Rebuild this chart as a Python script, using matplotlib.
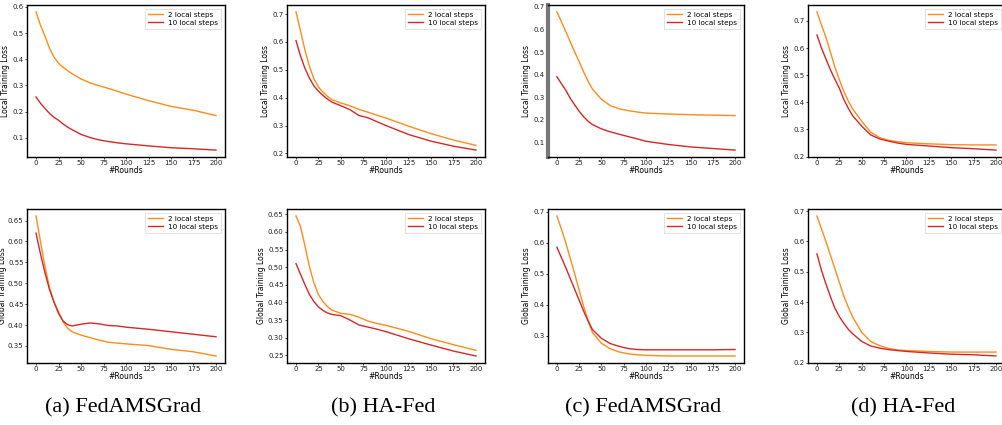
import numpy as np
import matplotlib.pyplot as plt

# rounds at which values were read
rounds = [0, 5, 10, 15, 20, 25, 30, 35, 40, 50, 60, 70, 80, 90, 100, 125, 150, 175, 200]

# local training loss (top row)
local_a_2 = [0.581, 0.530, 0.488, 0.442, 0.408, 0.385, 0.370, 0.357, 0.345, 0.325, 0.310, 0.299, 0.289, 0.278, 0.267, 0.242, 0.220, 0.205, 0.185]
local_a_10 = [0.256, 0.232, 0.212, 0.193, 0.178, 0.167, 0.153, 0.141, 0.131, 0.113, 0.101, 0.092, 0.086, 0.081, 0.077, 0.069, 0.062, 0.058, 0.053]
local_b_2 = [0.708, 0.640, 0.570, 0.512, 0.467, 0.438, 0.420, 0.405, 0.393, 0.381, 0.371, 0.358, 0.348, 0.337, 0.327, 0.298, 0.271, 0.248, 0.229]
local_b_10 = [0.605, 0.550, 0.505, 0.470, 0.442, 0.423, 0.408, 0.395, 0.384, 0.371, 0.357, 0.336, 0.328, 0.314, 0.300, 0.268, 0.244, 0.226, 0.212]
local_c_2 = [0.678, 0.635, 0.590, 0.545, 0.500, 0.457, 0.412, 0.370, 0.335, 0.290, 0.262, 0.248, 0.240, 0.234, 0.229, 0.225, 0.222, 0.220, 0.218]
local_c_10 = [0.390, 0.360, 0.330, 0.295, 0.265, 0.237, 0.213, 0.193, 0.178, 0.159, 0.146, 0.135, 0.125, 0.115, 0.104, 0.090, 0.079, 0.072, 0.065]
local_d_2 = [0.733, 0.685, 0.640, 0.585, 0.530, 0.483, 0.440, 0.405, 0.375, 0.330, 0.290, 0.270, 0.260, 0.255, 0.251, 0.247, 0.244, 0.243, 0.243]
local_d_10 = [0.648, 0.600, 0.560, 0.520, 0.485, 0.452, 0.410, 0.378, 0.350, 0.312, 0.280, 0.265, 0.257, 0.250, 0.245, 0.239, 0.233, 0.229, 0.224]

# global training loss (bottom row)
global_a_2 = [0.661, 0.600, 0.540, 0.490, 0.455, 0.432, 0.408, 0.393, 0.384, 0.376, 0.370, 0.364, 0.359, 0.357, 0.355, 0.351, 0.342, 0.336, 0.326]
global_a_10 = [0.620, 0.570, 0.525, 0.485, 0.455, 0.428, 0.410, 0.401, 0.398, 0.402, 0.405, 0.403, 0.399, 0.398, 0.395, 0.390, 0.384, 0.378, 0.372]
global_b_2 = [0.645, 0.615, 0.560, 0.500, 0.455, 0.422, 0.402, 0.388, 0.378, 0.369, 0.366, 0.358, 0.347, 0.340, 0.335, 0.318, 0.297, 0.280, 0.264]
global_b_10 = [0.510, 0.480, 0.450, 0.422, 0.402, 0.387, 0.377, 0.370, 0.366, 0.362, 0.350, 0.336, 0.330, 0.324, 0.317, 0.297, 0.279, 0.262, 0.248]
global_c_2 = [0.687, 0.645, 0.600, 0.550, 0.500, 0.447, 0.395, 0.350, 0.310, 0.276, 0.258, 0.248, 0.242, 0.239, 0.237, 0.235, 0.235, 0.235, 0.235]
global_c_10 = [0.586, 0.553, 0.520, 0.485, 0.450, 0.415, 0.380, 0.348, 0.320, 0.292, 0.275, 0.266, 0.259, 0.256, 0.255, 0.255, 0.255, 0.255, 0.256]
global_d_2 = [0.684, 0.642, 0.600, 0.555, 0.510, 0.465, 0.420, 0.383, 0.350, 0.300, 0.270, 0.256, 0.247, 0.242, 0.240, 0.237, 0.235, 0.235, 0.235]
global_d_10 = [0.559, 0.505, 0.460, 0.418, 0.380, 0.352, 0.330, 0.310, 0.295, 0.270, 0.255, 0.248, 0.243, 0.240, 0.237, 0.232, 0.228, 0.226, 0.222]

captions = ['(a) FedAMSGrad', '(b) HA-Fed', '(c) FedAMSGrad', '(d) HA-Fed']
top_data = [(local_a_2, local_a_10), (local_b_2, local_b_10), (local_c_2, local_c_10), (local_d_2, local_d_10)]
bot_data = [(global_a_2, global_a_10), (global_b_2, global_b_10), (global_c_2, global_c_10), (global_d_2, global_d_10)]

W, H = 1003, 425
fig = plt.figure(figsize=(W / 100, H / 100), dpi=100)

col_px = [(27, 225), (287, 485), (548, 744), (808, 1005)]
row_px = [(5, 157), (209, 363)]

c2 = '#ff8c1a'
c10 = '#d62728'


def make_ax(col, row):
    x0, x1 = col_px[col]
    y0, y1 = row_px[row]
    return fig.add_axes([x0 / W, 1 - y1 / H, (x1 - x0) / W, (y1 - y0) / H])


def style(ax, ylabel, lpad=1.5):
    ax.tick_params(labelsize=5, length=1.5, width=0.6, pad=1, colors='#222222')
    for s in ax.spines.values():
        s.set_linewidth(1.0)
    ax.set_xlabel('#Rounds', fontsize=5.5, labelpad=0)
    ax.set_ylabel(ylabel, fontsize=5.5, labelpad=lpad)
    ax.set_xticks([0, 25, 50, 75, 100, 125, 150, 175, 200])
    leg = ax.legend(loc='upper right', fontsize=5.2, handlelength=2.0, borderpad=0.4,
                    labelspacing=0.3, fancybox=False)
    leg.get_frame().set_linewidth(0.5)


for i in range(4):
    ax = make_ax(i, 0)
    ax.plot(rounds, top_data[i][0], color=c2, lw=1.0, label='2 local steps')
    ax.plot(rounds, top_data[i][1], color=c10, lw=1.0, label='10 local steps')
    style(ax, 'Local Training Loss')
    if i == 2:
        ax.spines['left'].set_linewidth(3)
        ax.spines['left'].set_color('#777777')

    ax = make_ax(i, 1)
    ax.plot(rounds, bot_data[i][0], color=c2, lw=1.0, label='2 local steps')
    ax.plot(rounds, bot_data[i][1], color=c10, lw=1.0, label='10 local steps')
    style(ax, 'Global Training Loss', lpad=0.3 if i == 0 else 1.5)
    if i in (0, 1):
        ax.yaxis.set_major_formatter(plt.FormatStrFormatter('%.2f'))
        ax.set_yticks(np.arange(0.25 if i == 1 else 0.35, 0.651, 0.05))

    x0, x1 = col_px[i]
    fig.text((x0 + x1) / 2 / W - 0.003, 1 - 408 / H, captions[i], ha='center', va='center',
             fontsize=16, family='Liberation Serif')

fig.savefig('out.png', dpi=100)
